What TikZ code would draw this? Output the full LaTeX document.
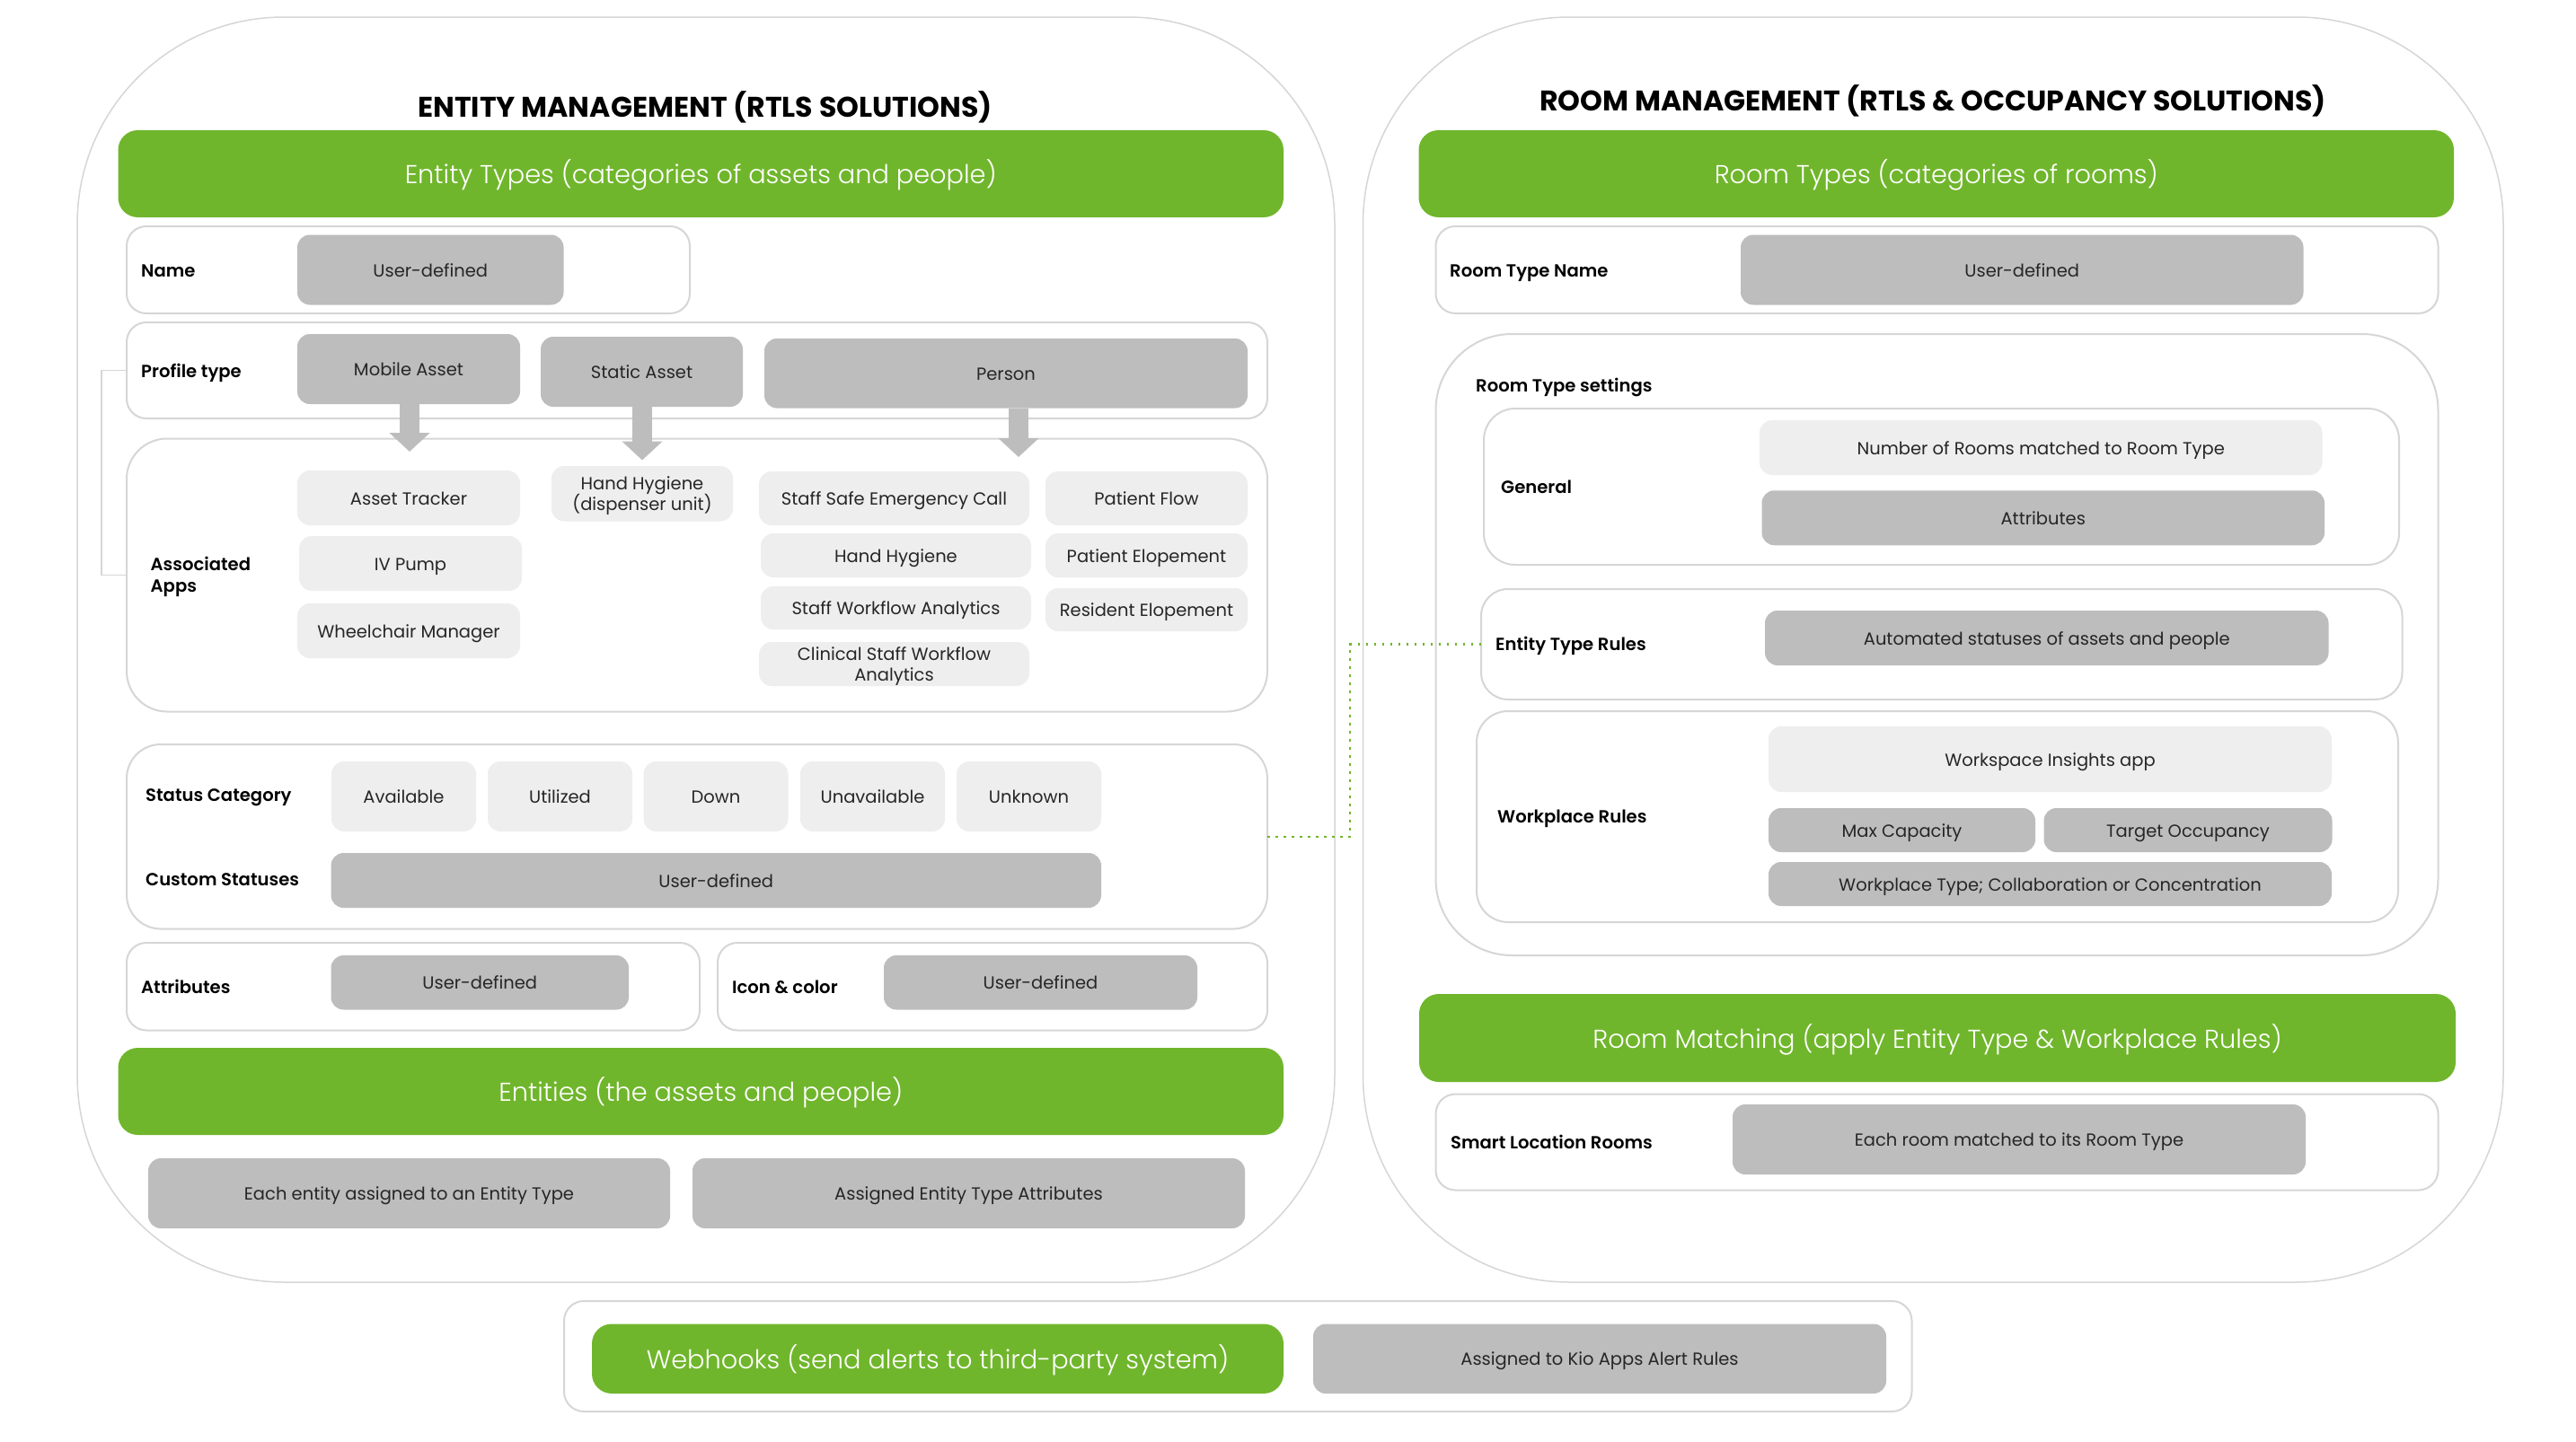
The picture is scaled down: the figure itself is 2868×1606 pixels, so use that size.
\documentclass[tikz,border=0pt]{standalone}
\usepackage{fontspec}
\setmainfont{Poppins}[BoldFont=* SemiBold]
\newfontfamily\barfont{Poppins Light}
\newfontfamily\headfont{Poppins}[UprightFont=* Bold]
\usetikzlibrary{arrows.meta}
\definecolor{bargreen}{HTML}{70B62C}
\definecolor{boxgray}{HTML}{BDBDBD}
\definecolor{boxlight}{HTML}{EEEEEE}
\definecolor{linegray}{HTML}{D6D6D6}
\definecolor{inktext}{HTML}{262626}
\tikzset{
  panel/.style={draw=linegray, line width=2, rectangle, rounded corners=22, inner sep=0, outer sep=0, fill=white},
  bigpanel/.style={panel, line width=1.5, rounded corners=230, minimum height=1409},
  graybox/.style={fill=boxgray, rectangle, rounded corners=14, inner sep=0, outer sep=0, align=center, text=inktext, text height=15, text depth=0, font=\fontsize{19.5}{23.5}\selectfont},
  lightbox/.style={graybox, fill=boxlight},
  twolines/.style={text height=, text depth=0},
  greenbar/.style={fill=bargreen, rectangle, rounded corners=22, inner sep=0, outer sep=0, text=white, text height=22, text depth=0, font=\barfont\fontsize{28.8}{34}\selectfont},
  rowlabel/.style={anchor=west, inner sep=0, align=left, text=black, text height=14, text depth=0, font=\bfseries\fontsize{19.6}{24}\selectfont},
  headline/.style={inner sep=0, text=black, font=\headfont\fontsize{31.6}{36}\selectfont},
  blockarrow/.style={draw=boxgray, line width=22, -{Triangle[width=44, length=21]}},
  bracketline/.style={draw=linegray, line width=1.5},
  dotlink/.style={draw=bargreen, line width=2.5, dash pattern=on 2.5 off 6.5}
}
\begin{document}
\begin{tikzpicture}[x=1pt, y=-1pt]
  \useasboundingbox (0,0) rectangle (2868,1606);
  % outer panels
  \node[bigpanel, minimum width=1400] (entitypanel) at (786,723.5) {};
  \node[bigpanel, minimum width=1269.5] (roompanel) at (2152.25,723.5) {};
  \node[panel, minimum width=1500.5, minimum height=123] (hookpanel) at (1378.25,1510.5) {};
  % entity side
  \node[headline] (entitytitle) at (785,119) {ENTITY MANAGEMENT (RTLS SOLUTIONS)};
  \node[greenbar, minimum width=1297.5, minimum height=97] (entitybar) at (780.25,193.5) {Entity Types (categories of assets and people)};
  \node[panel, minimum width=627, minimum height=97] (namerow) at (454.5,300.5) {};
  \node[rowlabel] (namelabel) at (157,301) {Name};
  \node[graybox, minimum width=296.5, minimum height=78] (nameval) at (479.25,300.5) {User-defined};
  \node[panel, minimum width=1270, minimum height=107] (profilerow) at (776,412.5) {};
  \node[panel, rounded corners=45, minimum width=1270, minimum height=304] (appsrow) at (776,640.5) {};
  \node[rowlabel] (profilelabel) at (157,413) {Profile type};
  \node[graybox, minimum width=248, minimum height=78] (mobile) at (455,411) {Mobile Asset};
  \node[graybox, minimum width=225, minimum height=78] (static) at (714.5,414) {Static Asset};
  \node[graybox, minimum width=538, minimum height=77.5] (person) at (1120,415.75) {Person};
  \node[rowlabel, twolines] (appslabel) at (167.5,640) {Associated\\Apps};
  \node[lightbox, minimum width=248, minimum height=61] (tracker) at (455,554.5) {Asset Tracker};
  \node[lightbox, minimum width=248, minimum height=61] (ivpump) at (457,627.5) {IV Pump};
  \node[lightbox, minimum width=248, minimum height=61] (wheelchair) at (455,702.5) {Wheelchair Manager};
  \node[lightbox, twolines, minimum width=202, minimum height=61.5] (dispenser) at (715,549.75) {Hand Hygiene\\(dispenser unit)};
  \node[lightbox, minimum width=301, minimum height=60] (safecall) at (995.5,555) {Staff Safe Emergency Call};
  \node[lightbox, minimum width=301, minimum height=49] (hygiene) at (997.5,618.5) {Hand Hygiene};
  \node[lightbox, minimum width=301, minimum height=48] (workflow) at (997.5,677) {Staff Workflow Analytics};
  \node[lightbox, twolines, minimum width=301, minimum height=49] (clinical) at (995.5,739.5) {Clinical Staff Workflow\\Analytics};
  \node[lightbox, minimum width=225, minimum height=60] (patientflow) at (1276.5,555) {Patient Flow};
  \node[lightbox, minimum width=225, minimum height=49] (patientelope) at (1276.5,618.5) {Patient Elopement};
  \node[lightbox, minimum width=225, minimum height=48] (residentelope) at (1276.5,679) {Resident Elopement};
  \coordinate (mobiletip) at (456,503);
  \coordinate (statictip) at (715,512.5);
  \coordinate (persontip) at (1134,509);
  \draw[blockarrow] (mobile.south -| mobiletip) -- (mobiletip);
  \draw[blockarrow] (static.south -| statictip) -- (statictip);
  \draw[blockarrow] (person.south -| persontip) -- (persontip);
  \draw[bracketline] (profilerow.west) -- ++(-28,0) |- (appsrow.west);
  \node[panel, rounded corners=38, minimum width=1270, minimum height=205.5] (statusrow) at (776,931.75) {};
  \node[rowlabel] (statuslabel) at (162,885) {Status Category};
  \node[rowlabel] (customlabel) at (162,979) {Custom Statuses};
  \node[lightbox, minimum width=161, minimum height=78] (available) at (449.5,887) {Available};
  \node[lightbox, minimum width=161, minimum height=78] (utilized) at (623.5,887) {Utilized};
  \node[lightbox, minimum width=161, minimum height=78] (down) at (797,887) {Down};
  \node[lightbox, minimum width=161, minimum height=78] (unavailable) at (971.5,887) {Unavailable};
  \node[lightbox, minimum width=161, minimum height=78] (unknown) at (1145.5,887) {Unknown};
  \node[graybox, minimum width=857.5, minimum height=61] (customval) at (797.25,980.5) {User-defined};
  \node[panel, minimum width=638, minimum height=97.5] (attrrow) at (460,1098.75) {};
  \node[rowlabel] (attrlabel) at (157,1099) {Attributes};
  \node[graybox, minimum width=331.5, minimum height=60.5] (attrval) at (534.25,1094.25) {User-defined};
  \node[panel, minimum width=612, minimum height=97.5] (iconrow) at (1105,1098.75) {};
  \node[rowlabel] (iconlabel) at (815,1099) {Icon \& color};
  \node[graybox, minimum width=349, minimum height=60.5] (iconval) at (1158.5,1094.25) {User-defined};
  \node[greenbar, minimum width=1297.5, minimum height=97] (entitiesbar) at (780.25,1215.5) {Entities (the assets and people)};
  \node[graybox, minimum width=581, minimum height=78] (eachentity) at (455.5,1329) {Each entity assigned to an Entity Type};
  \node[graybox, minimum width=615, minimum height=78] (assignedattr) at (1078.5,1329) {Assigned Entity Type Attributes};
  % room side
  \node[headline] (roomtitle) at (2152,112) {ROOM MANAGEMENT (RTLS \& OCCUPANCY SOLUTIONS)};
  \node[greenbar, minimum width=1152.5, minimum height=97] (roombar) at (2155.75,193.5) {Room Types (categories of rooms)};
  \node[panel, minimum width=1116, minimum height=97] (typerow) at (2156.5,300.5) {};
  \node[rowlabel] (typelabel) at (1614,301) {Room Type Name};
  \node[graybox, minimum width=626.5, minimum height=78] (typeval) at (2251.25,300.5) {User-defined};
  \node[panel, rounded corners=85, minimum width=1116, minimum height=692] (settingsbox) at (2156.5,718) {};
  \node[rowlabel] (settingslabel) at (1643,429) {Room Type settings};
  \node[panel, rounded corners=35, minimum width=1019, minimum height=174] (generalrow) at (2161.5,542) {};
  \node[rowlabel] (generallabel) at (1671,542) {General};
  \node[lightbox, minimum width=626.5, minimum height=61] (roomcount) at (2272.25,498.5) {Number of Rooms matched to Room Type};
  \node[graybox, minimum width=626.5, minimum height=61] (roomattr) at (2274.75,576.75) {Attributes};
  \node[panel, rounded corners=30, minimum width=1025.5, minimum height=123] (rulesrow) at (2161.75,717.5) {};
  \node[rowlabel] (ruleslabel) at (1665,717.5) {Entity Type Rules};
  \node[graybox, minimum width=627.5, minimum height=61] (autostatus) at (2278.75,710.5) {Automated statuses of assets and people};
  \node[panel, rounded corners=35, minimum width=1026, minimum height=235] (workrow) at (2157,909.5) {};
  \node[rowlabel] (worklabel) at (1667,909.5) {Workplace Rules};
  \node[lightbox, minimum width=627, minimum height=73] (insights) at (2282.5,845.5) {Workspace Insights app};
  \node[graybox, minimum width=297, minimum height=49] (maxcap) at (2117.5,924.5) {Max Capacity};
  \node[graybox, minimum width=321, minimum height=49] (targetocc) at (2436,924.5) {Target Occupancy};
  \node[graybox, minimum width=627, minimum height=49] (worktype) at (2282.5,984.5) {Workplace Type; Collaboration or Concentration};
  \node[greenbar, minimum width=1154, minimum height=98] (matchbar) at (2157,1156) {Room Matching (apply Entity Type \& Workplace Rules)};
  \node[panel, minimum width=1116, minimum height=107] (smartrow) at (2156.5,1272) {};
  \node[rowlabel] (smartlabel) at (1615,1272.5) {Smart Location Rooms};
  \node[graybox, minimum width=638, minimum height=78] (eachroom) at (2248,1269) {Each room matched to its Room Type};
  % webhooks
  \node[greenbar, minimum width=770, minimum height=77.5] (hookbar) at (1044,1513.25) {Webhooks (send alerts to third-party system)};
  \node[graybox, minimum width=638, minimum height=77.5] (kiorules) at (1781,1513.25) {Assigned to Kio Apps Alert Rules};
  % link between the panels
  \draw[dotlink] (statusrow.east) -- ++(92,0) |- (rulesrow.west);
\end{tikzpicture}
\end{document}
